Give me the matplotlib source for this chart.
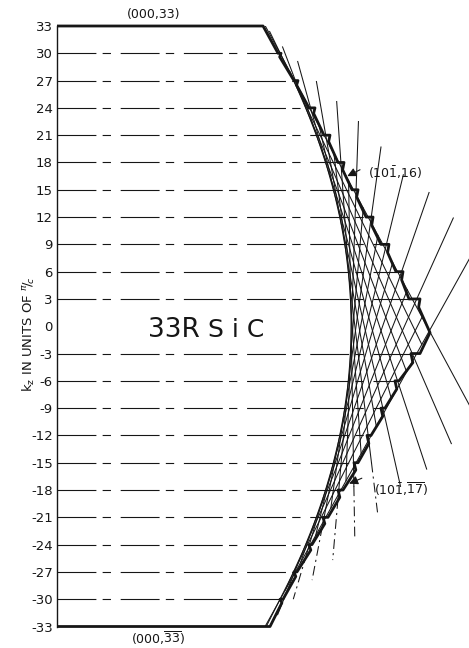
import numpy as np
import matplotlib as mpl
import matplotlib.pyplot as plt

mpl.rcParams['axes.unicode_minus'] = False
mpl.rcParams['lines.scale_dashes'] = False
mpl.rcParams['font.family'] = ['DejaVu Sans']

INK = '#161616'

# kz axis, units of pi/c
kz_ticks = [33, 30, 27, 24, 21, 18, 15, 12, 9, 6, 3, 0,
            -3, -6, -9, -12, -15, -18, -21, -24, -27, -30, -33]
guide_kz = [30, 27, 24, 21, 18, 15, 12, 9, 6, 3,
            -3, -6, -9, -12, -15, -18, -21, -24, -27, -30]

# zone boundary (kx in the same units)
top_corner_x = 22.64
bottom_corner_x = 23.41
tip_x, tip_kz = 40.99, -0.7

upper_levels = [30, 27, 24, 21, 18, 15, 12, 9, 6, 3]
upper_x_in = [24.29, 26.04, 27.69, 29.34, 30.88, 32.42, 33.96, 35.60, 37.25, 38.68]
upper_x_out = [24.62, 26.48, 28.35, 30.00, 31.54, 33.08, 34.73, 36.48, 38.02, 39.89]
upper_drop = [0.4, 0.5, 0.6, 0.7, 0.8, 0.8, 0.9, 0.9, 0.9, 0.9]

lower_levels = [-3, -6, -9, -12, -15, -18, -21, -24, -27, -30]
lower_x_out = [39.89, 37.58, 36.04, 34.51, 33.08, 31.43, 29.78, 28.02, 26.37, 24.84]
lower_x_in = [38.90, 37.14, 35.60, 34.07, 32.64, 30.88, 29.23, 27.69, 26.04, 24.51]
lower_drop = [1.0, 0.9, 0.9, 0.9, 0.8, 0.8, 0.7, 0.6, 0.5, 0.4]

# (10-1, l) planes: kx = X0 + C*l^2 - 2*C*l*kz, drawn between kz_top and kz_bot
X0, C = 32.31, 0.00868
plane_l = [31, 28, 25, 22, 19, 16, 13, 10, 7, 4, 1,
           -2, -5, -8, -11, -14, -17, -20, -23, -26, -29, -32]
plane_top = [33, 32.4, 28, 30.7, 25, 29.1, 22, 26.9, 19, 24.7, 16,
             22.5, 13, 19.7, 10, 16.65, 7, 14.7, 4, 11.9, 1, 8]
plane_bot = [-9, -2, -12.9, -5, -15.7, -8, -17.6, -11, -20.7, -14, -23.5,
             -17, -25.7, -20, -27.9, -23, -30, -26, -31.7, -29, -33, -33]
# lower parts drawn dash-dot below this kz
plane_dash = [None, None, None, None, None, None, None, None, -15, None, -17.6,
              None, -19, None, -22, None, -25, None, None, None, None, None]


def plane_x(l, kz):
    return X0 + C * l ** 2 - 2 * C * l * kz


fig = plt.figure(figsize=(4.69, 6.48), dpi=100)
ax = fig.add_axes([57 / 469, 1 - 626.5 / 648, 1 - 57 / 469, (626.5 - 26) / 648])
ax.set_xlim(0, (469 - 57) / 9.1)
ax.set_ylim(-33, 33)

# thin plane traces
for l, zt, zb, zd in zip(plane_l, plane_top, plane_bot, plane_dash):
    if zd is None:
        z = np.array([zt, zb])
        ax.plot(plane_x(l, z), z, color=INK, lw=0.75, zorder=2)
    else:
        z = np.array([zt, zd])
        ax.plot(plane_x(l, z), z, color=INK, lw=0.75, zorder=2)
        z = np.array([zd, zb])
        ax.plot(plane_x(l, z), z, color=INK, lw=0.75, zorder=2,
                dashes=(7, 3, 1.5, 3))

# dashed guides out to the boundary
guide_end = dict(zip(upper_levels, upper_x_in))
guide_end.update(zip(lower_levels, lower_x_in))
for kz in guide_kz:
    ax.plot([0, guide_end[kz]], [kz, kz], color=INK, lw=0.8,
            dashes=(28, 4.5, 6, 7), zorder=1)

# thick boundary
bx = [0, top_corner_x]
bz = [33, 33]
for lv, xi, xo, d in zip(upper_levels, upper_x_in, upper_x_out, upper_drop):
    bx += [xi, xo, xo - 0.15]
    bz += [lv, lv, lv - d]
bx.append(tip_x)
bz.append(tip_kz)
for lv, xo, xi, d in zip(lower_levels, lower_x_out, lower_x_in, lower_drop):
    bx += [xo, xi, xi + 0.2]
    bz += [lv, lv, lv - d]
bx += [bottom_corner_x, 0]
bz += [-33, -33]
ax.plot(bx, bz, color=INK, lw=2.0, solid_joinstyle='round', solid_capstyle='butt',
        zorder=4, clip_on=False)

# axis styling
for side in ['top', 'right', 'bottom']:
    ax.spines[side].set_visible(False)
ax.spines['left'].set_linewidth(1.0)
ax.spines['left'].set_color(INK)
ax.set_xticks([])
ax.set_yticks(kz_ticks)
ax.set_yticklabels([str(v) for v in kz_ticks], fontsize=9.5, color=INK)
ax.tick_params(axis='y', length=0, pad=3)
ax.set_yticks([0], minor=True)
ax.tick_params(axis='y', which='minor', direction='in', length=5, width=0.9, color=INK)

fig.text(29 / 469, 1 - 334 / 648, r'k$_\mathregular{z}$ IN UNITS OF $^{\pi}\!/\!_{c}$',
         rotation=90, ha='center', va='center', fontsize=9.5, color=INK)

# labels
ax.text(10.66, 34.3, '(000,33)', ha='center', va='center', fontsize=9, color=INK, clip_on=False)
ax.text(11.1, -34.3, r'(000,$\overline{33}$)', ha='center', va='center', fontsize=9,
        color=INK, clip_on=False)
ax.text(10.0, -0.4, '33R', ha='left', va='center', fontsize=19, color=INK)
ax.text(16.6, -0.4, 'S i C', ha='left', va='center', fontsize=18, color=INK)

ax.text(34.2, 16.9, r'(10$\bar{1}$,16)', ha='left', va='center', fontsize=9, color=INK)
ax.text(34.8, -17.9, r'(10$\bar{1}$,$\overline{17}$)', ha='left', va='center', fontsize=9,
        color=INK)
arrow_style = dict(arrowstyle='-|>', color=INK, lw=0.8, mutation_scale=13,
                   shrinkA=0, shrinkB=0)
ax.annotate('', xy=(31.9, 16.5), xytext=(33.3, 17.2), arrowprops=arrow_style)
ax.annotate('', xy=(32.1, -17.3), xytext=(33.5, -16.7), arrowprops=arrow_style)

fig.savefig('out.png', dpi=100)
